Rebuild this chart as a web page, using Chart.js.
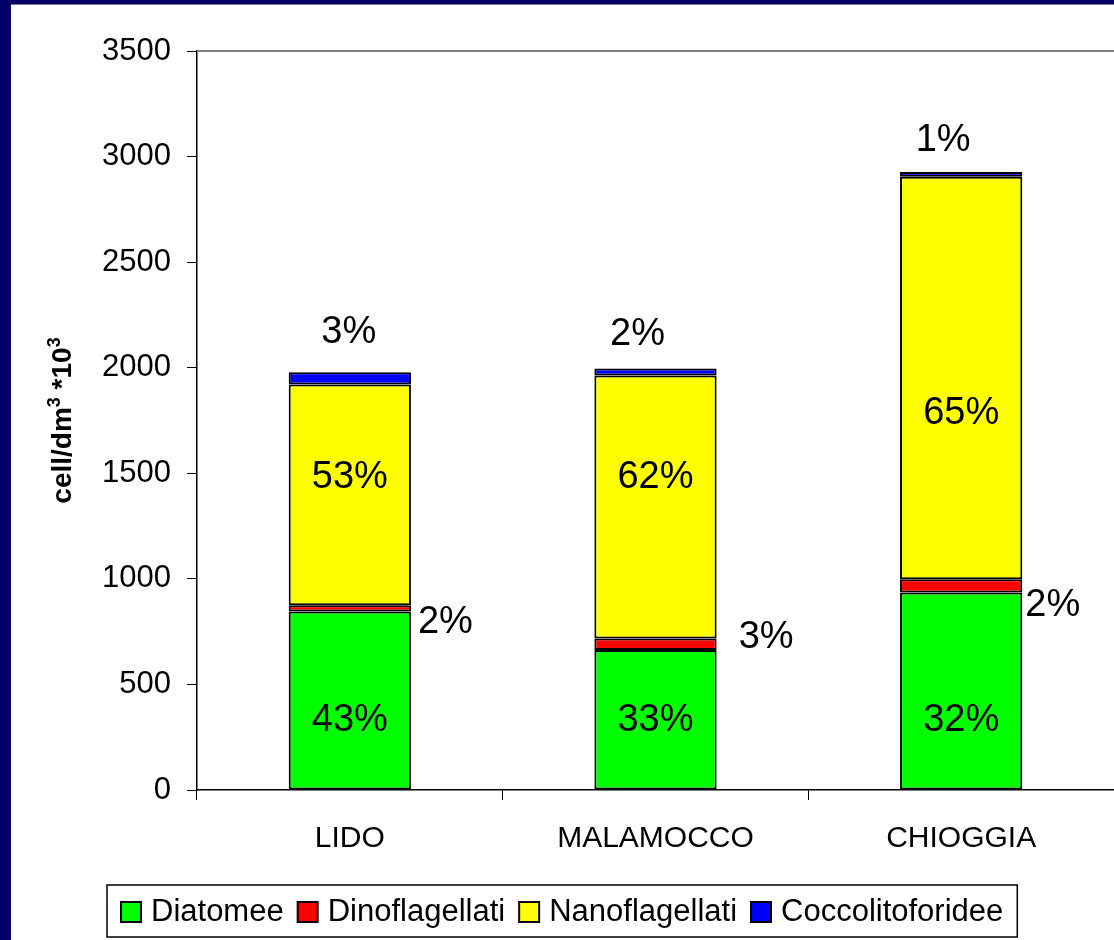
<!DOCTYPE html>
<html>
<head>
<meta charset="utf-8">
<script src="https://cdn.jsdelivr.net/npm/chart.js@4.4.1/dist/chart.umd.min.js"></script>
<style>
  html, body { margin: 0; padding: 0; background: #000066; width: 1114px; height: 940px; overflow: hidden; }
  #panel { position: absolute; left: 11px; top: 4px; width: 1103px; height: 935px; background: #fff; border-top: 1px solid #808080; }
  canvas { display: block; }
</style>
</head>
<body>
<div id="panel"><canvas id="myChart" width="1103" height="935"></canvas></div>
<script>
const FONT = '"Liberation Sans", Arial, sans-serif';

const categories = ['LIDO', 'MALAMOCCO', 'CHIOGGIA'];
const seriesNames = ['Diatomee', 'Dinoflagellati', 'Nanoflagellati', 'Coccolitoforidee'];
const seriesColors = ['#00ff00', '#ff0000', '#ffff00', '#0000ff'];

// cell/dm3 *10^3
const diatomee = [845, 663, 935];
const dinoflagellati = [30, 55, 63];
const nanoflagellati = [1045, 1245, 1907];
const coccolitoforidee = [58, 33, 22];

const yTicks = [0, 500, 1000, 1500, 2000, 2500, 3000, 3500];

// axis title pieces: [text, superscript?]
const yTitle = [['cell/dm', false], ['3', true], [' *10', false], ['3', true]];

// where each percentage sits, per series
const labelPlace = [
  (bar, i, y) => ({ x: bar.x, y: y.getPixelForValue(330) }),
  (bar, i) => ({ x: bar.x + bar.width / 2 + [7, 22, 3][i], y: (bar.y + bar.base) / 2 + [14, -7, 20][i], align: 'left' }),
  (bar, i, y) => ({ x: bar.x, y: y.getPixelForValue([1480, 1480, 1785][i]) }),
  (bar, i) => ({ x: bar.x + [-1, -18, -18][i], y: bar.y - [40, 34, 31][i] })
];

const pctLabels = {
  id: 'pctLabels',
  afterDatasetsDraw(chart) {
    const ctx = chart.ctx;
    const ds = chart.data.datasets;
    const totals = categories.map((_, i) => ds.reduce((s, d) => s + d.data[i], 0));
    ctx.save();
    ctx.font = '38px ' + FONT;
    ctx.fillStyle = '#000';
    ctx.textBaseline = 'middle';
    ds.forEach((d, di) => {
      chart.getDatasetMeta(di).data.forEach((bar, i) => {
        const p = labelPlace[di](bar, i, chart.scales.y);
        ctx.textAlign = p.align || 'center';
        ctx.fillText(Math.round(d.data[i] / totals[i] * 100) + '%', p.x, p.y);
      });
    });
    ctx.restore();
  }
};

// plot area top edge, rotated y title, boxed legend under the axis
const frameAndLegend = {
  id: 'frameAndLegend',
  afterDraw(chart) {
    const ctx = chart.ctx;
    const a = chart.chartArea;
    ctx.save();
    ctx.strokeStyle = '#808080';
    ctx.lineWidth = 2;
    ctx.beginPath();
    ctx.moveTo(a.left, a.top);
    ctx.lineTo(chart.width, a.top);
    ctx.stroke();

    // y title with real superscripts
    const big = 'bold 28px ' + FONT, small = 'bold 18px ' + FONT;
    const widths = yTitle.map(([t, sup]) => { ctx.font = sup ? small : big; return ctx.measureText(t).width; });
    const len = widths.reduce((s, w) => s + w, 0);
    ctx.translate(50, (a.top + a.bottom) / 2);
    ctx.rotate(-Math.PI / 2);
    ctx.fillStyle = '#000';
    ctx.textAlign = 'left';
    ctx.textBaseline = 'alphabetic';
    let tx = -len / 2;
    yTitle.forEach(([t, sup], k) => {
      ctx.font = sup ? small : big;
      ctx.fillText(t, tx, sup ? -1 : 10);
      tx += widths[k];
    });
    ctx.setTransform(1, 0, 0, 1, 0, 0);

    ctx.font = '31px ' + FONT;
    ctx.textBaseline = 'middle';
    ctx.textAlign = 'left';
    const box = 20, gapText = 10, gapItem = 14, pad = 14;
    const items = chart.data.datasets.map(d => ({ d, w: box + gapText + ctx.measureText(d.label).width }));
    const total = items.reduce((s, it) => s + it.w, 0) + gapItem * (items.length - 1);
    const top = 880, h = 52, cy = top + h / 2 + 1;
    let x = Math.round(chart.width / 2 - total / 2);
    ctx.fillStyle = '#fff';
    ctx.strokeStyle = '#000';
    ctx.lineWidth = 1.5;
    ctx.fillRect(x - pad, top, total + pad * 2, h);
    ctx.strokeRect(x - pad, top, total + pad * 2, h);
    items.forEach(it => {
      ctx.fillStyle = it.d.backgroundColor;
      ctx.fillRect(x, cy - box / 2, box, box);
      ctx.lineWidth = 2;
      ctx.strokeRect(x, cy - box / 2, box, box);
      ctx.fillStyle = '#000';
      ctx.fillText(it.d.label, x + box + gapText, cy);
      x += it.w + gapItem;
    });
    ctx.restore();
  }
};

const seriesData = [diatomee, dinoflagellati, nanoflagellati, coccolitoforidee];

new Chart(document.getElementById('myChart').getContext('2d'), {
  type: 'bar',
  data: {
    labels: categories,
    datasets: seriesNames.map((name, k) => ({
      label: name,
      data: seriesData[k],
      backgroundColor: seriesColors[k],
      borderColor: '#000',
      borderWidth: 2,
      borderSkipped: false,
      categoryPercentage: 0.5,
      barPercentage: 0.8
    }))
  },
  options: {
    responsive: false,
    animation: false,
    devicePixelRatio: 1,
    layout: { padding: { top: 46, right: 0, bottom: 80, left: 0 } },
    plugins: {
      legend: { display: false },
      tooltip: { enabled: false }
    },
    scales: {
      x: {
        stacked: true,
        afterFit: s => { s.height = 70; },
        grid: { offset: true, drawOnChartArea: false, drawTicks: true, tickLength: 10, color: '#000' },
        border: { color: '#000', width: 1.5 },
        ticks: { color: '#000', padding: 21, font: { family: FONT, size: 30 } }
      },
      y: {
        stacked: true,
        min: 0,
        max: 3500,
        afterFit: s => { s.width = 186; },
        afterBuildTicks: s => { s.ticks = yTicks.map(v => ({ value: v })); },
        grid: { drawOnChartArea: false, drawTicks: true, tickLength: 10, color: '#000' },
        border: { color: '#000', width: 1.5 },
        ticks: { color: '#000', padding: 16, font: { family: FONT, size: 31 }, callback: v => String(v) }
      }
    }
  },
  plugins: [pctLabels, frameAndLegend]
});
</script>
</body>
</html>
